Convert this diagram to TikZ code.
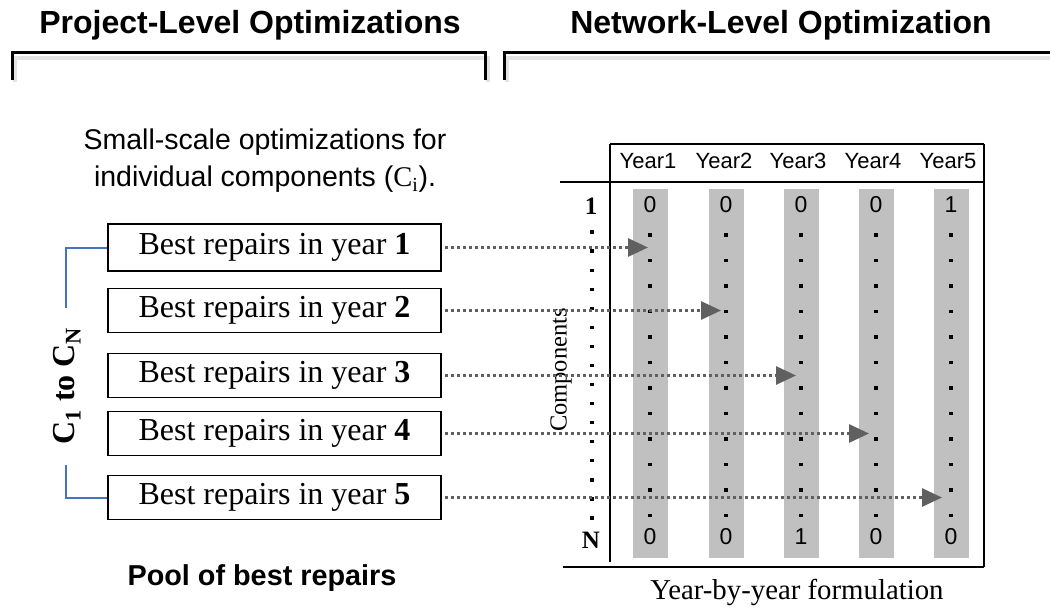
\documentclass[tikz,border=0pt]{standalone}
\usepackage{fontspec}
\setmainfont{Liberation Serif}
\setsansfont{Liberation Sans}
\usetikzlibrary{arrows.meta}
\definecolor{brblue}{RGB}{68,114,196}
\definecolor{colgray}{RGB}{192,192,192}
\definecolor{arrgray}{RGB}{96,96,96}
\tikzset{
  title/.style={font=\sffamily\bfseries\fontsize{32}{38}\selectfont, inner sep=0pt},
  brack/.style={line width=3pt},
  brshadow/.style={line width=4pt, draw=gray!22},
  repbox/.style={draw, line width=1.8pt, minimum width=333pt, minimum height=44pt, inner sep=0pt,
    font=\rmfamily\fontsize{32}{38}\selectfont},
  bluebr/.style={draw=brblue, line width=2pt},
  tline/.style={line width=2.5pt},
  yearlbl/.style={font=\sffamily\fontsize{22}{26}\selectfont, inner sep=0pt},
  valtxt/.style={font=\sffamily\fontsize{23}{27}\selectfont, inner sep=0pt},
  rowlbl/.style={font=\rmfamily\bfseries\fontsize{25}{29}\selectfont, inner sep=0pt},
  dotarrow/.style={draw=arrgray, line width=3pt, dash pattern=on 3pt off 3pt,
    -{Triangle[length=20pt,width=18pt,fill=arrgray]}},
}
\begin{document}
\begin{tikzpicture}[x=1pt,y=-1pt]
\useasboundingbox (0,0) rectangle (1050,610);

% titles
\node[title] (t1) at (250,25) {Project-Level Optimizations};
\node[title] (t2) at (781,25) {Network-Level Optimization};

% brackets with soft shadow
\draw[brshadow] (15,82) -- (15,58) -- (488,58) -- (488,82);
\draw[brshadow] (507,82) -- (507,58) -- (1050,58);
\draw[brack] (12,80) -- (12,53) -- (485,53) -- (485,80);
\draw[brack] (504,80) -- (504,53) -- (1050,53);

% subtitle
\node[font=\sffamily\fontsize{28.5}{37}\selectfont, align=center, inner sep=0pt] (sub) at (265,161)
  {Small-scale optimizations for\\individual components ({\rmfamily C\textsubscript{i}}).};

% repair boxes
\node[repbox, minimum height=47pt] (b1) at (274.5,247.5) {Best repairs in year \textbf{1}};
\node[repbox] (b2) at (274.5,310.5) {Best repairs in year \textbf{2}};
\node[repbox] (b3) at (274.5,375.5) {Best repairs in year \textbf{3}};
\node[repbox] (b4) at (274.5,433.5) {Best repairs in year \textbf{4}};
\node[repbox] (b5) at (274.5,497.5) {Best repairs in year \textbf{5}};

% blue bracket
\coordinate (cA) at (66,308);
\coordinate (cB) at (66,465);
\draw[bluebr] (b1.west) -| (cA);
\draw[bluebr] (cB) |- (b5.west);
\node[rotate=90, font=\rmfamily\bfseries\fontsize{32}{38}\selectfont, inner sep=0pt] (cn) at (67,386)
  {C\textsubscript{1} to C\textsubscript{N}};

\node[font=\sffamily\bfseries\fontsize{28.8}{34}\selectfont, inner sep=0pt] (pool) at (262,578) {Pool of best repairs};

% table gray columns
\foreach \cx in {650,726,801,876,951}{
  \fill[colgray] (\cx-17.5,189) rectangle (\cx+17.5,558);
  \foreach \k in {0,...,11}{
    \fill (\cx-1.6,235+\k*25.5-1.6) rectangle +(3.2,3.2);
  }
}
% left dots
\foreach \k in {0,...,15}{
  \fill (592-1.6,232+\k*19.07-1.6) rectangle +(3.2,3.2);
}

% table lines
\draw[tline] (610,144) -- (984,144);
\draw[tline] (610,144) -- (610,562);
\draw[tline] (560,182) -- (984,182);
\draw[tline] (984,144) -- (984,567);
\draw[tline] (563,567) -- (984,567);

% header
\node[yearlbl] (y1) at (648,161) {Year1};
\node[yearlbl] (y2) at (724,161) {Year2};
\node[yearlbl] (y3) at (798,161) {Year3};
\node[yearlbl] (y4) at (873,161) {Year4};
\node[yearlbl] (y5) at (948,161) {Year5};

% values
\node[valtxt] (v11) at (650,205) {0};
\node[valtxt] (v12) at (726,205) {0};
\node[valtxt] (v13) at (801,205) {0};
\node[valtxt] (v14) at (876,205) {0};
\node[valtxt] (v15) at (951,205) {1};
\node[valtxt] (vn1) at (650,537) {0};
\node[valtxt] (vn2) at (726,537) {0};
\node[valtxt] (vn3) at (801,537) {1};
\node[valtxt] (vn4) at (876,537) {0};
\node[valtxt] (vn5) at (951,537) {0};

% row labels
\node[rowlbl] (r1) at (591,206) {1};
\node[rowlbl] (rn) at (591,540) {N};
\node[rotate=90, font=\rmfamily\fontsize{24.5}{28}\selectfont, inner sep=0pt] (comp) at (561,370) {Components};

\node[font=\rmfamily\fontsize{28.8}{34}\selectfont, inner sep=0pt] (yby) at (797,592) {Year-by-year formulation};

% arrows
\coordinate (e1) at (648,247.5);
\coordinate (e2) at (721,310.5);
\coordinate (e3) at (796,375.5);
\coordinate (e4) at (869,433.5);
\coordinate (e5) at (942,497.5);
\draw[dotarrow] ([xshift=3pt]b1.east) -- (e1);
\draw[dotarrow] ([xshift=3pt]b2.east) -- (e2);
\draw[dotarrow] ([xshift=3pt]b3.east) -- (e3);
\draw[dotarrow] ([xshift=3pt]b4.east) -- (e4);
\draw[dotarrow] ([xshift=3pt]b5.east) -- (e5);
\end{tikzpicture}
\end{document}
